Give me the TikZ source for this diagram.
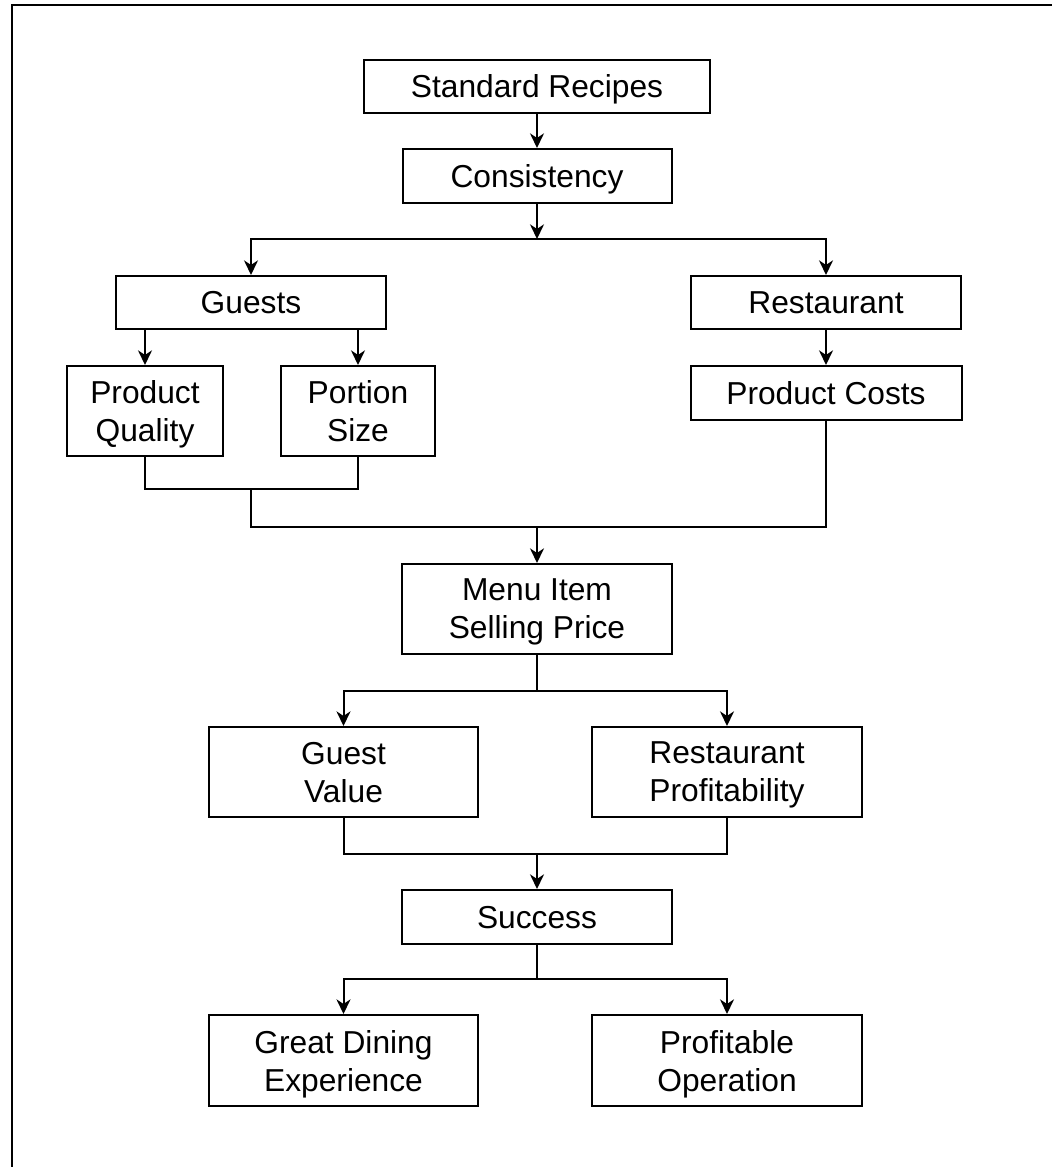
\documentclass[tikz,border=0pt]{standalone}
\usepackage{fontspec}
\setmainfont{Liberation Sans}
\usetikzlibrary{arrows.meta}
\tikzset{
  box/.style={draw, line width=1.5pt, align=center, inner sep=0pt,
    font=\fontsize{23.8pt}{28.5pt}\selectfont, text depth=0pt},
  twoline/.style={box, text depth=-6.75pt},
  conn/.style={line width=1.5pt},
  arr/.style={conn, -{Stealth[length=11pt,width=10.5pt,inset=3.5pt]}},
}
\begin{document}
\begin{tikzpicture}[x=0.75pt,y=-0.75pt]
\useasboundingbox (0,0) rectangle (1051,1167);
% frame
\draw[line width=2pt] (12,1170) -- (12,5) -- (1055,5);
% nodes (minimum sizes given in pt = px*0.75)
\node[box, minimum width=259.5pt, minimum height=39.75pt] (sr) at (537,86.5) {Standard Recipes};
\node[box, minimum width=201.75pt, minimum height=40.5pt] (con) at (537,176) {Consistency};
\node[box, minimum width=202.5pt, minimum height=39.75pt] (gue) at (251,302.5) {Guests};
\node[box, minimum width=202.5pt, minimum height=39.75pt] (res) at (826,302.5) {Restaurant};
\node[twoline, minimum width=117pt, minimum height=67.5pt] (pq) at (145,411) {Product\\Quality};
\node[twoline, minimum width=115.5pt, minimum height=67.5pt] (ps) at (358,411) {Portion\\Size};
\node[box, minimum width=203.25pt, minimum height=40.5pt] (pc) at (826,393) {Product Costs};
\node[twoline, minimum width=202.5pt, minimum height=67.5pt] (menu) at (537,609) {Menu Item\\Selling Price};
\node[twoline, minimum width=201.75pt, minimum height=67.5pt] (gv) at (343.5,772) {Guest\\Value};
\node[twoline, minimum width=202.5pt, minimum height=67.5pt] (rp) at (727,772) {Restaurant\\Profitability};
\node[box, minimum width=202.5pt, minimum height=40.5pt] (suc) at (537,917) {Success};
\node[twoline, minimum width=201.75pt, minimum height=68.25pt] (gde) at (343.5,1060.5) {Great Dining\\Experience};
\node[twoline, minimum width=202.5pt, minimum height=68.25pt] (po) at (727,1060.5) {Profitable\\Operation};
% junction coordinates
\coordinate (s1) at (537,239);
\coordinate (j1) at (251,489);
\coordinate (j3) at (537,527);
\coordinate (s2) at (537,691);
\coordinate (j4) at (537,854);
\coordinate (s3) at (537,979);
% connectors
\draw[arr] (sr) -- (con);
\draw[arr] (con) -- (s1);
\draw[arr] (s1) -| (gue);
\draw[arr] (s1) -| (res);
\draw[arr] (gue.south -| pq.north) -- (pq);
\draw[arr] (gue.south -| ps.north) -- (ps);
\draw[arr] (res) -- (pc);
\draw[conn] (pq) |- (j1);
\draw[conn] (ps) |- (j1);
\draw[conn] (j1) |- (j3);
\draw[conn] (pc) |- (j3);
\draw[arr] (j3) -- (menu);
\draw[conn] (menu) -- (s2);
\draw[arr] (s2) -| (gv);
\draw[arr] (s2) -| (rp);
\draw[conn] (gv) |- (j4);
\draw[conn] (rp) |- (j4);
\draw[arr] (j4) -- (suc);
\draw[conn] (suc) -- (s3);
\draw[arr] (s3) -| (gde);
\draw[arr] (s3) -| (po);
\end{tikzpicture}
\end{document}
